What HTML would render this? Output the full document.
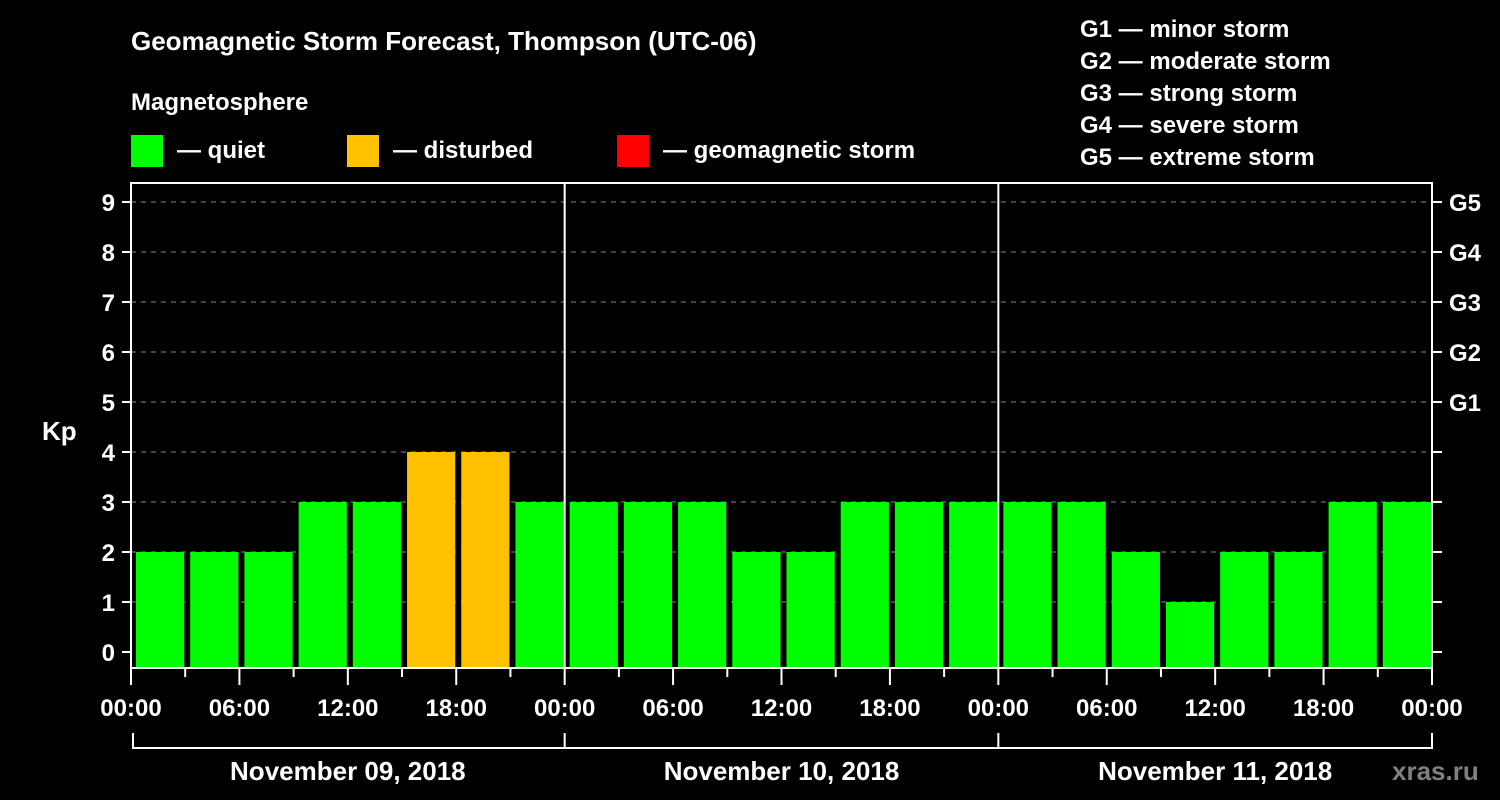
<!DOCTYPE html>
<html><head><meta charset="utf-8"><style>
body{margin:0;background:#000;width:1500px;height:800px;overflow:hidden}
svg{display:block;font-family:"Liberation Sans",sans-serif;font-weight:bold}
</style></head><body>
<svg id="c" width="1500" height="800">
<rect width="1500" height="800" fill="#000"/>
<text x="131" y="50" fill="#fff" font-size="26">Geomagnetic Storm Forecast, Thompson (UTC-06)</text>
<text x="131" y="110" fill="#fff" font-size="24">Magnetosphere</text>
<g><rect x="131" y="135" width="32" height="32" fill="#00ff00"/><text x="177" y="158" fill="#fff" font-size="24">— quiet</text></g>
<g><rect x="347" y="135" width="32" height="32" fill="#ffc000"/><text x="393" y="158" fill="#fff" font-size="24">— disturbed</text></g>
<g><rect x="617" y="135" width="32" height="32" fill="#ff0000"/><text x="663" y="158" fill="#fff" font-size="24">— geomagnetic storm</text></g>
<g fill="#fff" font-size="24">
<text x="1080" y="37">G1 — minor storm</text><text x="1080" y="69">G2 — moderate storm</text><text x="1080" y="101">G3 — strong storm</text><text x="1080" y="133">G4 — severe storm</text><text x="1080" y="165">G5 — extreme storm</text></g>
<text x="42" y="440" fill="#fff" font-size="26">Kp</text>
<text x="1392" y="780" fill="#808080" font-size="26">xras.ru</text>
<g id="plot"></g>
</svg>
<script>
const kpValues=[2,2,2,3,3,4,4,3,3,3,3,2,2,3,3,3,3,3,2,1,2,2,3,3];
const yTicks=[0,1,2,3,4,5,6,7,8,9];
const gLabels=["G1","G2","G3","G4","G5"];
const xTickLabels=["00:00","06:00","12:00","18:00","00:00","06:00","12:00","18:00","00:00","06:00","12:00","18:00","00:00"];
const dayLabels=["November 09, 2018","November 10, 2018","November 11, 2018"];
const L=131,R=1432,T=183,B=668;
const slot=(R-L)/kpValues.length;
const y=v=>652-v*50;
const x=i=>L+i*slot;
const NS="http://www.w3.org/2000/svg";
const g=document.getElementById('plot');
function mk(tag,a,txt){const e=document.createElementNS(NS,tag);for(const k in a)e.setAttribute(k,a[k]);if(txt!=null)e.textContent=txt;g.appendChild(e);return e;}
yTicks.forEach(v=>{
 if(v>0){const e=mk('line',{x1:L,x2:R,y1:y(v),y2:y(v),stroke:'#888','stroke-dasharray':'5,5','stroke-width':1});}
 let t=mk('line',{x1:L-9,x2:L,y1:y(v),y2:y(v),stroke:'#fff','stroke-width':2});
 
 t=mk('line',{x1:R,x2:R+10,y1:y(v),y2:y(v),stroke:'#fff','stroke-width':2});
 
 t=mk('text',{x:L-16,y:y(v)+9,fill:'#fff','font-size':24,'text-anchor':'end'},v);
 
});
gLabels.forEach((s,i)=>{const t=mk('text',{x:1449,y:y(5+i)+9,fill:'#fff','font-size':24},s);
 });
kpValues.forEach((v,i)=>{
 const col=v>=5?'#ff0000':(v>=4?'#ffc000':'#00ff00');
 const b=mk('rect',{x:x(i)+5,y:y(v),width:slot-6,height:B-y(v),fill:col});
 
});
[8,16].forEach(i=>{const d=mk('line',{x1:x(i),x2:x(i),y1:T,y2:B,stroke:'#fff','stroke-width':2});
 });
const f=mk('rect',{x:L,y:T,width:R-L,height:B-T,fill:'none',stroke:'#fff','stroke-width':2});

for(let i=0;i<=24;i++){const big=i%2==0;
 const t=mk('line',{x1:x(i),x2:x(i),y1:B,y2:B+(big?17:9),stroke:'#fff','stroke-width':2});
 }
xTickLabels.forEach((s,i)=>{const t=mk('text',{x:x(i*2),y:716,fill:'#fff','font-size':24,'text-anchor':'middle'},s);
 });
const br=mk('path',{d:`M${L+2},733V748H${R}V733M${x(8)},748V733M${x(16)},748V733`,fill:'none',stroke:'#fff','stroke-width':2});

dayLabels.forEach((s,i)=>{const t=mk('text',{x:(x(i*8)+x(i*8+8))/2,y:780,fill:'#fff','font-size':26,'text-anchor':'middle'},s);
 });
</script>
</body></html>
